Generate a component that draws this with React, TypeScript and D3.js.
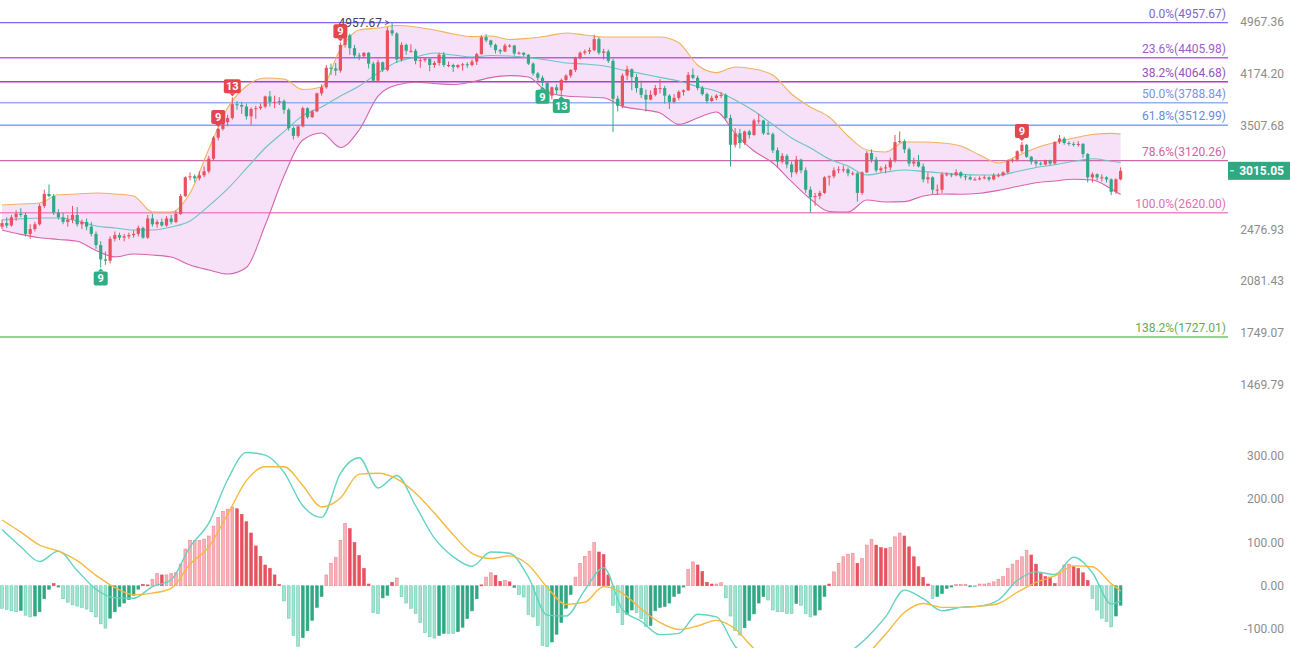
import React from 'react';
import * as d3 from 'd3';

// [open, high, low, close]
type Candle = [number, number, number, number];

const junCandles: Candle[] = [
  [2500, 2560, 2480, 2530], [2530, 2580, 2490, 2510], [2510, 2600, 2500, 2580], [2580, 2640, 2550, 2610],
  [2610, 2660, 2580, 2600], [2600, 2620, 2420, 2440], [2440, 2520, 2400, 2480], [2480, 2540, 2460, 2520],
  [2520, 2700, 2510, 2680], [2680, 2830, 2660, 2790], [2790, 2880, 2760, 2770], [2770, 2790, 2600, 2620],
  [2620, 2650, 2560, 2580], [2580, 2620, 2520, 2540], [2540, 2600, 2500, 2560], [2560, 2680, 2530, 2600],
  [2600, 2670, 2500, 2520], [2520, 2560, 2480, 2540], [2540, 2570, 2470, 2500], [2500, 2540, 2420, 2440],
  [2440, 2460, 2320, 2350], [2350, 2380, 2180, 2240], [2240, 2300, 2200, 2230], [2230, 2420, 2210, 2400],
  [2400, 2460, 2380, 2430], [2430, 2450, 2390, 2410], [2410, 2440, 2380, 2420], [2420, 2450, 2400, 2430],
  [2430, 2470, 2410, 2440],
];

const julCandles: Candle[] = [
  [2440, 2510, 2420, 2490], [2490, 2500, 2400, 2410], [2410, 2600, 2400, 2570], [2570, 2610, 2500, 2520],
  [2520, 2560, 2490, 2540], [2540, 2570, 2500, 2510], [2510, 2590, 2500, 2570], [2570, 2600, 2520, 2540],
  [2540, 2640, 2530, 2610], [2610, 2790, 2600, 2770], [2770, 2960, 2760, 2950], [2950, 3000, 2920, 2960],
  [2960, 2980, 2900, 2940], [2940, 3010, 2920, 2970], [2970, 3060, 2950, 3010], [3010, 3170, 2990, 3140],
  [3140, 3390, 3120, 3370], [3370, 3480, 3340, 3470], [3470, 3620, 3450, 3550], [3550, 3640, 3500, 3600],
  [3600, 3860, 3580, 3770], [3770, 3810, 3700, 3760], [3760, 3800, 3650, 3740], [3740, 3780, 3580, 3620],
  [3620, 3730, 3520, 3710], [3710, 3750, 3590, 3720], [3720, 3780, 3700, 3740], [3740, 3880, 3720, 3870],
  [3870, 3940, 3740, 3800], [3800, 3880, 3720, 3800], [3800, 3860, 3760, 3810],
];

const augCandles: Candle[] = [
  [3810, 3830, 3650, 3700], [3700, 3720, 3450, 3480], [3480, 3500, 3350, 3390], [3390, 3510, 3370, 3500],
  [3500, 3740, 3490, 3720], [3720, 3730, 3590, 3610], [3610, 3700, 3600, 3680], [3680, 3920, 3670, 3910],
  [3910, 4030, 3880, 3990], [3990, 4300, 3970, 4260], [4260, 4320, 4160, 4250], [4250, 4330, 4150, 4220],
  [4220, 4640, 4190, 4600], [4600, 4790, 4560, 4750], [4750, 4780, 4450, 4550], [4550, 4600, 4400, 4440],
  [4440, 4480, 4370, 4430], [4430, 4490, 4400, 4480], [4480, 4490, 4250, 4320], [4320, 4350, 4060, 4080],
  [4080, 4380, 4060, 4340], [4340, 4350, 4200, 4230], [4230, 4880, 4210, 4830], [4830, 4957.67, 4740, 4780],
  [4780, 4800, 4330, 4380], [4380, 4640, 4350, 4600], [4600, 4620, 4450, 4510], [4510, 4610, 4480, 4510],
  [4510, 4540, 4310, 4360], [4360, 4410, 4260, 4370], [4370, 4400, 4340, 4390],
];

const sepCandles: Candle[] = [
  [4390, 4400, 4210, 4300], [4300, 4360, 4260, 4330], [4330, 4480, 4290, 4450], [4450, 4490, 4270, 4300],
  [4300, 4350, 4270, 4300], [4300, 4320, 4200, 4270], [4270, 4310, 4250, 4300], [4300, 4330, 4220, 4310],
  [4310, 4340, 4260, 4300], [4300, 4380, 4280, 4350], [4350, 4480, 4300, 4460], [4460, 4750, 4450, 4720],
  [4720, 4770, 4640, 4670], [4670, 4680, 4560, 4600], [4600, 4620, 4470, 4520], [4520, 4540, 4460, 4500],
  [4500, 4620, 4490, 4590], [4590, 4610, 4560, 4590], [4590, 4600, 4440, 4470], [4470, 4500, 4450, 4480],
  [4480, 4490, 4420, 4450], [4450, 4460, 4300, 4320], [4320, 4340, 4150, 4180], [4180, 4200, 4080, 4120],
  [4120, 4150, 4010, 4050], [4050, 4070, 3850, 3880], [3880, 4000, 3830, 3990], [3990, 4030, 3900, 3950],
  [3950, 4110, 3890, 4090], [4090, 4170, 4050, 4150],
];

const octCandles: Candle[] = [
  [4150, 4240, 4120, 4230], [4230, 4420, 4200, 4400], [4400, 4500, 4380, 4480], [4480, 4530, 4450, 4500],
  [4500, 4560, 4460, 4520], [4520, 4760, 4500, 4690], [4690, 4720, 4450, 4480], [4480, 4540, 4380, 4500],
  [4500, 4530, 4330, 4360], [4360, 4390, 3435, 3840], [3840, 3880, 3680, 3750], [3750, 4180, 3720, 4150],
  [4150, 4290, 4090, 4240], [4240, 4250, 3950, 4130], [4130, 4170, 3920, 3980], [3980, 4080, 3850, 3890],
  [3890, 3960, 3680, 3830], [3830, 3950, 3820, 3890], [3890, 4020, 3870, 3980], [3980, 4100, 3910, 3980],
  [3980, 4010, 3780, 3880], [3880, 3900, 3710, 3800], [3800, 3900, 3780, 3850], [3850, 3950, 3820, 3930],
  [3930, 3960, 3880, 3950], [3950, 4200, 3940, 4160], [4160, 4250, 4100, 4120], [4120, 4150, 3950, 3980],
  [3980, 4010, 3880, 3900], [3900, 3920, 3780, 3810], [3810, 3880, 3800, 3850],
];

const novCandles: Candle[] = [
  [3850, 3900, 3820, 3880], [3880, 3930, 3850, 3890], [3890, 3910, 3580, 3600], [3600, 3640, 3060, 3290],
  [3290, 3480, 3260, 3420], [3420, 3470, 3250, 3310], [3310, 3450, 3290, 3440], [3440, 3460, 3360, 3400],
  [3400, 3590, 3390, 3570], [3570, 3650, 3530, 3570], [3570, 3580, 3400, 3420], [3420, 3550, 3400, 3410],
  [3410, 3430, 3200, 3230], [3230, 3260, 3050, 3110], [3110, 3200, 3090, 3170], [3170, 3190, 3040, 3080],
  [3080, 3110, 2950, 3000], [3000, 3170, 2980, 3130], [3130, 3140, 2990, 3020], [3020, 3050, 2800, 2830],
  [2830, 2860, 2620, 2760], [2760, 2800, 2680, 2770], [2770, 2820, 2740, 2800], [2800, 2960, 2790, 2950],
  [2950, 2970, 2870, 2960], [2960, 3050, 2940, 3020], [3020, 3060, 2990, 3030], [3030, 3070, 3000, 3030],
  [3030, 3050, 2960, 2990], [2990, 3010, 2970, 2990],
];

const decCandles: Candle[] = [
  [2990, 3000, 2720, 2800], [2800, 3010, 2780, 3000], [3000, 3220, 2990, 3200], [3200, 3240, 3100, 3130],
  [3130, 3160, 3000, 3020], [3020, 3060, 3000, 3040], [3040, 3080, 2990, 3050], [3050, 3150, 3020, 3120],
  [3120, 3400, 3100, 3320], [3320, 3440, 3310, 3330], [3330, 3350, 3200, 3240], [3240, 3260, 3060, 3090],
  [3090, 3150, 3060, 3110], [3110, 3180, 3050, 3060], [3060, 3090, 2900, 2930], [2930, 3000, 2890, 2950],
  [2950, 2960, 2790, 2830], [2830, 2880, 2780, 2830], [2830, 3000, 2800, 2980], [2980, 3000, 2960, 2980],
  [2980, 2990, 2950, 2970], [2970, 3030, 2960, 3000], [3000, 3010, 2940, 2960], [2960, 2980, 2920, 2950],
  [2950, 2970, 2920, 2930], [2930, 2950, 2920, 2930], [2930, 2960, 2920, 2940], [2940, 2970, 2930, 2950],
  [2950, 2960, 2910, 2930], [2930, 2990, 2920, 2970], [2970, 2990, 2950, 2970],
];

const janCandles: Candle[] = [
  [2970, 3010, 2960, 3000], [3000, 3130, 2990, 3120], [3120, 3140, 3100, 3130], [3130, 3230, 3110, 3220],
  [3220, 3320, 3200, 3290], [3290, 3300, 3150, 3160], [3160, 3170, 3080, 3110], [3110, 3130, 3060, 3090],
  [3090, 3110, 3070, 3080], [3080, 3130, 3070, 3120], [3120, 3130, 3070, 3090], [3090, 3330, 3080, 3320],
  [3320, 3400, 3300, 3360], [3360, 3380, 3290, 3310], [3310, 3330, 3280, 3300], [3300, 3320, 3270, 3290],
  [3290, 3330, 3270, 3300], [3300, 3310, 3150, 3190], [3190, 3200, 2900, 2950], [2950, 3000, 2900, 2980],
  [2980, 2990, 2920, 2950], [2950, 2980, 2910, 2950], [2950, 2960, 2900, 2930], [2930, 2940, 2780, 2810],
  [2810, 2940, 2790, 2930], [2930, 3050, 2920, 3015.05],
];

const candles: Candle[] = [
  ...junCandles, ...julCandles, ...augCandles, ...sepCandles,
  ...octCandles, ...novCandles, ...decCandles, ...janCandles,
];

// MACD histogram, one bar per candle
const macdHist: number[] = [
  -52, -55, -58, -60, -57, -68, -72, -70, -60, -30, -8, 5, -3,
  -30, -38, -44, -47, -50, -54, -60, -72, -88, -98, -75, -60, -48, -40, -32, -22, -8,
  3, 2, 15, 28, 25, 25, 28, 30, 50, 85, 105, 105, 105, 108, 115, 138, 158, 172, 177, 182,
  178, 165, 148, 122, 92, 68, 48, 40, 25, 3,
  -35, -75, -115, -140, -120, -104, -80, -50, -25, 25, 52, 65, 105, 144, 132, 100, 70, 40, 4, -62, -64,
  -28, -22, 8, 18, -25, -40, -52, -64, -85, -108, -118, -121, -115, -110, -110, -110, -106, -96, -76, -58,
  -30, 2, 20, 30, 24, 10, 12, 9, -4, -20, -26, -66, -72, -92, -138, -141, -130, -112, -85, -52,
  -20, 20, 52, 68, 80, 100, 78, 72, 25, -45, -62, -90, -66, -56, -62, -76, -94, -92, -58, -50,
  -48, -40, -25, -18, -3, 38, 55, 48, 33, 8, 4, 4, 7, -28, -70, -104, -114, -97, -80, -65,
  -40, -25, -33, -56, -60, -60, -64, -64, -41, -45, -64, -72, -68, -56, -25, 4, 32, 52, 67, 73,
  75, 52, 63, 94, 107, 94, 88, 86, 88, 113, 122, 115, 90, 67, 44, 19, 4, -29, -25, -18,
  -6, -3, 3, 3, 3, -2, -2, 4, 4, 6, 9, 15, 21, 40, 50, 59, 67, 82, 71, 50,
  28, 21, 20, 5, 28, 48, 50, 44, 40, 30, 12, -29, -56, -75, -83, -95, -70, -45,
];

// candle indices where the band / MACD line values below were read
const lineIdx: number[] = [...d3.range(0, 237, 4), 238];

const bandUpper: number[] = [
  2689, 2698, 2707, 2782, 2790, 2799, 2790, 2771, 2626, 2626,
  2799, 3244, 3722, 4008, 4117, 4103, 3960, 3994, 4537, 4836,
  4868, 4909, 4885, 4836, 4772, 4729, 4740, 4684, 4703, 4740,
  4788, 4756, 4724, 4724, 4724, 4724, 4634, 4300, 4191, 4271,
  4243, 4158, 3902, 3735, 3612, 3389, 3233, 3212, 3321, 3321,
  3310, 3277, 3180, 3095, 3169, 3255, 3316, 3366, 3406, 3419,
  3412,
];
const bandMid: number[] = [
  2557, 2567, 2574, 2574, 2550, 2506, 2489, 2472, 2472, 2497,
  2548, 2680, 2837, 3039, 3255, 3439, 3628, 3735, 3875, 4008,
  4186, 4344, 4417, 4477, 4447, 4417, 4439, 4432, 4408, 4373,
  4329, 4315, 4289, 4229, 4178, 4125, 4075, 4001, 3938, 3824,
  3685, 3522, 3366, 3255, 3137, 3064, 2973, 3003, 3024, 3009,
  2993, 2979, 2973, 2973, 3008, 3049, 3077, 3113, 3140, 3114,
  3101,
];
const bandLower: number[] = [
  2472, 2436, 2409, 2395, 2380, 2308, 2259, 2281, 2273, 2258,
  2198, 2162, 2133, 2180, 2514, 2963, 3344, 3423, 3261, 3458,
  3875, 4021, 4058, 4041, 4027, 4062, 4122, 4149, 4131, 3928,
  3875, 3863, 3852, 3743, 3703, 3661, 3523, 3600, 3673, 3417,
  3222, 3095, 2908, 2743, 2631, 2626, 2734, 2716, 2719, 2771,
  2790, 2787, 2797, 2824, 2861, 2897, 2914, 2931, 2924, 2837,
  2785,
];

const difLine: number[] = [
  130, 90, 56, 80, 35, -8, -28, -29, -2, 14,
  90, 145, 245, 308, 302, 262, 185, 158, 260, 296,
  226, 255, 185, 110, 67, 45, 78, 75, 20, -68,
  -70, -10, 42, -55, -82, -113, -110, -66, -72, -140,
  -178, -200, -225, -236, -200, -158, -120, -72, -10, -30,
  -58, -50, -47, -33, 12, 32, 26, 66, 30, -42,
  -35,
];
const deaLine: number[] = [
  152, 124, 94, 80, 58, 24, -4, -21, -17, -6,
  50, 90, 165, 243, 275, 275, 232, 182, 203, 258,
  260, 247, 214, 168, 118, 75, 63, 69, 48, -4,
  -43, -38, -2, -17, -54, -85, -101, -93, -80, -100,
  -145, -170, -190, -200, -205, -195, -160, -112, -62, -41,
  -50, -50, -47, -41, -15, 8, 23, 46, 44, 5,
  -12,
];

const fibRatios = ['0.0%', '23.6%', '38.2%', '50.0%', '61.8%', '78.6%', '100.0%', '138.2%'];
const fibPrices = [4957.67, 4405.98, 4064.68, 3788.84, 3512.99, 3120.26, 2620.0, 1727.01];
const fibLineColors = ['#8466f2', '#c05ae0', '#ad3ccc', '#94b2f2', '#7fa5ef', '#cf6aa8', '#ee86cc', '#72c472'];
const fibTextColors = ['#7b68c8', '#9c5ccc', '#9a50c0', '#7d90e0', '#6c88e0', '#d0649e', '#dc70ae', '#5fae55'];

const priceTicks = [4967.36, 4174.2, 3507.68, 2476.93, 2081.43, 1749.07, 1469.79];
const macdTicks = [300, 200, 100, 0, -100];

// TD sequential count marks
const tdIdx = [21, 46, 49, 72, 115, 119, 217];
const tdText = ['9', '9', '13', '9', '9', '13', '9'];
const tdAbove = [false, true, true, true, false, false, true];

const lastPrice = 3015.05;
const athIdx = 83;

const UP = '#e8515d';
const DOWN = '#33a886';
const FONT = "Roboto, 'Liberation Sans', Arial, sans-serif";

export default function App() {
  const W = 1290;
  const H = 648;
  const N = candles.length;

  const x = d3.scaleLinear().domain([0, N - 1]).range([2, 1120.6]);
  const yP = d3.scaleLog().domain([4967.36, 1469.79]).range([22, 385]);
  const yM = d3.scaleLinear().domain([-100, 300]).range([629, 456]);

  const bandArea = d3
    .area<number>()
    .x((_, k) => x(lineIdx[k]))
    .y0((_, k) => yP(bandLower[k]))
    .y1((d) => yP(d))
    .curve(d3.curveMonotoneX);

  const priceLine = (vals: number[]) =>
    d3
      .line<number>()
      .x((_, k) => x(lineIdx[k]))
      .y((d) => yP(d))
      .curve(d3.curveMonotoneX)(vals) || '';

  const macdLine = (vals: number[]) =>
    d3
      .line<number>()
      .x((_, k) => x(lineIdx[k]))
      .y((d) => yM(d))
      .curve(d3.curveMonotoneX)(vals) || '';

  const zeroY = yM(0);
  const athHigh = candles[athIdx][1];

  return (
    <svg
      width={W}
      height={H}
      style={{ position: 'absolute', left: 0, top: 0, background: '#fff' }}
      fontFamily={FONT}
    >
      {/* Bollinger band fill */}
      <path d={bandArea(bandUpper) || ''} fill="#e9b8f0" fillOpacity={0.42} />

      {/* Fibonacci levels */}
      {fibPrices.map((p, k) => (
        <g key={'fib' + k}>
          <line x1={0} x2={1228} y1={yP(p)} y2={yP(p)} stroke={fibLineColors[k]} strokeWidth={1.4} />
          <text x={1226} y={yP(p) - 5} textAnchor="end" fontSize={12} fill={fibTextColors[k]}>
            {`${fibRatios[k]}(${p.toFixed(2)})`}
          </text>
        </g>
      ))}

      {/* Bollinger lines */}
      <path d={priceLine(bandUpper)} fill="none" stroke="#f2b25c" strokeWidth={1.1} />
      <path d={priceLine(bandMid)} fill="none" stroke="#6cc4c0" strokeWidth={1.1} />
      <path d={priceLine(bandLower)} fill="none" stroke="#d466ac" strokeWidth={1.1} />

      {/* Candles */}
      {candles.map(([o, h, l, c], i) => {
        const col = c >= o ? UP : DOWN;
        const cx = x(i);
        const top = yP(Math.max(o, c));
        const bot = yP(Math.min(o, c));
        return (
          <g key={'c' + i}>
            <line x1={cx} x2={cx} y1={yP(h)} y2={yP(l)} stroke={col} strokeWidth={1} />
            <rect x={cx - 1.6} y={top} width={3.2} height={Math.max(1, bot - top)} fill={col} />
          </g>
        );
      })}

      {/* ATH annotation */}
      <text x={x(athIdx) - 10} y={yP(athHigh) + 4} textAnchor="end" fontSize={12} fill="#444">
        {athHigh.toFixed(2)}
      </text>
      <path
        d={`M${x(athIdx) - 7},${yP(athHigh) - 2} L${x(athIdx) - 3},${yP(athHigh)} L${x(athIdx) - 7},${yP(athHigh) + 2}`}
        fill="none"
        stroke="#555"
        strokeWidth={1}
      />

      {/* TD count marks */}
      {tdIdx.map((ci, k) => {
        const above = tdAbove[k];
        const cx = x(ci);
        const w = tdText[k].length > 1 ? 17 : 14;
        const hgt = 14;
        const col = above ? '#e5454f' : '#2fae86';
        const by = above ? yP(candles[ci][1]) - 4 - hgt : yP(candles[ci][2]) + 4;
        const tri = above
          ? `M${cx - 3},${by + hgt} L${cx + 3},${by + hgt} L${cx},${by + hgt + 3} Z`
          : `M${cx - 3},${by} L${cx + 3},${by} L${cx},${by - 3} Z`;
        return (
          <g key={'td' + k}>
            <rect x={cx - w / 2} y={by} width={w} height={hgt} rx={2} fill={col} />
            <path d={tri} fill={col} />
            <text x={cx} y={by + hgt / 2 + 4} textAnchor="middle" fontSize={11} fontWeight={700} fill="#fff">
              {tdText[k]}
            </text>
          </g>
        );
      })}

      {/* Price axis */}
      {priceTicks.map((t) => (
        <text key={'pt' + t} x={1284} y={yP(t)} dy="0.35em" textAnchor="end" fontSize={12} fill="#8c8c8c">
          {t.toFixed(2)}
        </text>
      ))}

      {/* Last price tag */}
      <rect x={1228} y={yP(lastPrice) - 9} width={62} height={18} fill="#2ea982" />
      <line x1={1230} x2={1234} y1={yP(lastPrice)} y2={yP(lastPrice)} stroke="#fff" strokeWidth={1} />
      <text x={1284} y={yP(lastPrice)} dy="0.36em" textAnchor="end" fontSize={12} fontWeight={700} fill="#fff">
        {lastPrice.toFixed(2)}
      </text>

      {/* MACD histogram */}
      {macdHist.map((v, i) => {
        const prev = i > 0 ? macdHist[i - 1] : v;
        const growing = Math.abs(v) >= Math.abs(prev);
        const pos = v >= 0;
        const fill = pos ? (growing ? '#f7b1b7' : '#e5535f') : growing ? '#a6e2d0' : '#2fa883';
        const stroke = pos ? (growing ? '#ee8891' : '#e5535f') : growing ? '#67cdb0' : '#2fa883';
        const yv = yM(v);
        const top = Math.min(yv, zeroY);
        const hgt = Math.max(1, Math.abs(yv - zeroY));
        return (
          <rect
            key={'h' + i}
            x={x(i) - 1.4}
            y={top}
            width={2.8}
            height={hgt}
            fill={fill}
            stroke={stroke}
            strokeWidth={0.6}
          />
        );
      })}

      {/* MACD lines */}
      <path d={macdLine(difLine)} fill="none" stroke="#62d2c1" strokeWidth={1.4} />
      <path d={macdLine(deaLine)} fill="none" stroke="#f4b93f" strokeWidth={1.4} />

      {/* MACD axis */}
      {macdTicks.map((t) => (
        <text key={'mt' + t} x={1284} y={yM(t)} dy="0.35em" textAnchor="end" fontSize={12} fill="#8c8c8c">
          {t.toFixed(2)}
        </text>
      ))}
    </svg>
  );
}
